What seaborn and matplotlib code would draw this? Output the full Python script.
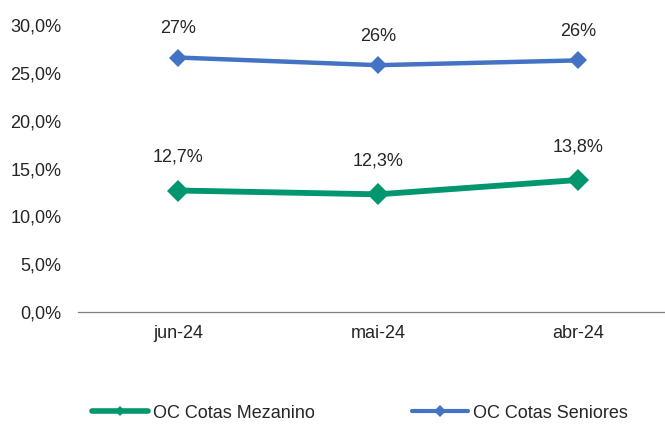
import pandas as pd
import numpy as np
import matplotlib.pyplot as plt
import seaborn as sns
from matplotlib.lines import Line2D

months = ["jun-24", "mai-24", "abr-24"]
mezanino = [12.7, 12.3, 13.8]
seniores = [26.6, 25.8, 26.3]
mezanino_labels = ["12,7%", "12,3%", "13,8%"]
seniores_labels = ["27%", "26%", "26%"]
y_ticks = [0, 5, 10, 15, 20, 25, 30]

green = "#00966E"
blue = "#4472C4"

sns.set_style("white")
plt.rcParams["font.family"] = ["Liberation Sans", "DejaVu Sans"]

df = pd.DataFrame({"mes": months, "mez": mezanino, "sen": seniores})
df["x"] = np.arange(len(months))

fig = plt.figure(figsize=(6.65, 4.26), dpi=100)
ax = fig.add_axes([78 / 665, 114 / 426, 587 / 665, 287 / 426])

sns.lineplot(data=df, x="x", y="sen", ax=ax, color=blue, linewidth=3.2,
             marker="D", markersize=9.5, markeredgewidth=0, sort=False)
sns.lineplot(data=df, x="x", y="mez", ax=ax, color=green, linewidth=4.2,
             marker="D", markersize=11.5, markeredgewidth=0, sort=False)

for i in range(len(months)):
    ax.annotate(seniores_labels[i], (i, seniores[i]), xytext=(0, 21),
                textcoords="offset points", ha="center", va="center", fontsize=13)
    ax.annotate(mezanino_labels[i], (i, mezanino[i]), xytext=(0, 24),
                textcoords="offset points", ha="center", va="center", fontsize=13)

ax.set_xlim(-0.5, 2.435)
ax.set_ylim(0, 30)
ax.set_yticks(y_ticks)
ax.set_yticklabels([f"{v:.1f}%".replace(".", ",") for v in y_ticks], fontsize=13)
ax.set_xticks(range(len(months)))
ax.set_xticklabels(months, fontsize=13)
ax.set_xticks([-0.5, 0.5, 1.5], minor=True)
ax.tick_params(axis="x", which="major", length=0, pad=9)
ax.tick_params(axis="x", which="minor", length=5, width=0.8, color="#808080", direction="in")
ax.tick_params(axis="y", length=0, pad=12)
ax.set_xlabel("")
ax.set_ylabel("")
for s in ["top", "right", "left"]:
    ax.spines[s].set_visible(False)
ax.spines["bottom"].set_color("#808080")
ax.spines["bottom"].set_linewidth(0.9)

handles = [
    Line2D([], [], color=green, linewidth=4, marker="D", markersize=5, markeredgewidth=0),
    Line2D([], [], color=blue, linewidth=3, marker="D", markersize=6, markeredgewidth=0),
]
fig.legend(handles, ["OC Cotas Mezanino", "OC Cotas Seniores"], loc="center",
           bbox_to_anchor=(360 / 665, 1 - 413 / 426), ncol=2, frameon=False,
           fontsize=13, handlelength=3.1, handletextpad=0.25, columnspacing=5.4)

fig.savefig("out.png", dpi=100)
